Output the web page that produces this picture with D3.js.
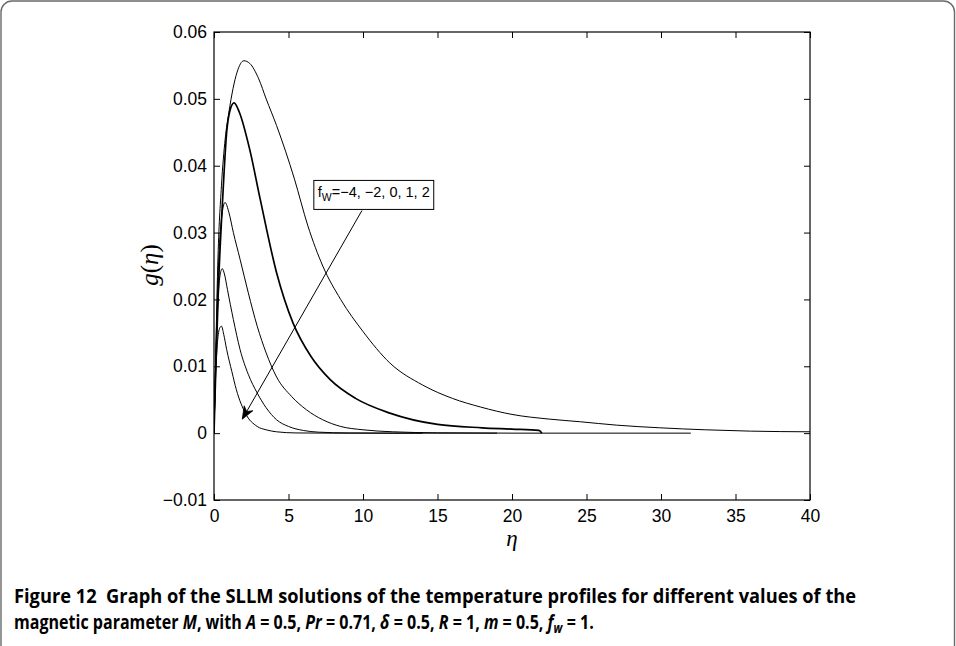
<!DOCTYPE html>
<html><head><meta charset="utf-8">
<script src="https://cdn.jsdelivr.net/npm/d3@7"></script>
<style>body{margin:0;background:#fff}svg{display:block}</style>
</head><body><svg id="c" width="956" height="646"></svg>
<script>
// ---- data ----
const fwValues = [-4, -2, 0, 1, 2];
const etaA = [0, 0.1, 0.25, 0.5, 0.75, 1.0, 1.55, 2.0, 2.4, 3.0, 3.5, 4.2, 5.4, 6.3, 7.3, 8.5, 10, 11.8, 14, 16, 17.9, 20, 22.5, 24.6, 27, 29.9, 33, 36, 40];
const gA   = [0, 0.010, 0.025, 0.037, 0.044, 0.048, 0.054, 0.0557, 0.0553, 0.053, 0.050, 0.046, 0.038, 0.031, 0.025, 0.020, 0.0152, 0.0105, 0.0072, 0.0052, 0.0039, 0.0028, 0.0021, 0.0017, 0.0012, 0.0008, 0.0005, 0.0003, 0.0002];
const etaB = [0, 0.1, 0.3, 0.58, 0.85, 1.1, 1.35, 1.7, 2.4, 3.1, 4.2, 5.3, 6.5, 7.8, 9.5, 11.8, 15, 18, 20, 21.8, 22];
const gB   = [0, 0.008, 0.022, 0.035, 0.045, 0.0485, 0.0494, 0.048, 0.0424, 0.035, 0.024, 0.0165, 0.0115, 0.008, 0.0052, 0.003, 0.0013, 0.0008, 0.0006, 0.0004, 0];
const etaC = [0, 0.1, 0.3, 0.5, 0.74, 1.0, 1.3, 1.75, 2.3, 2.9, 3.5, 4.2, 5.2, 6.2, 7.3, 8.5, 10, 12, 15, 20, 32];
const gC   = [0, 0.010, 0.025, 0.032, 0.0345, 0.033, 0.030, 0.026, 0.021, 0.016, 0.012, 0.0084, 0.0055, 0.0035, 0.002, 0.001, 0.0005, 0.0002, 0.00005, 0, 0];
const etaD = [0, 0.1, 0.25, 0.4, 0.55, 0.7, 0.9, 1.3, 1.75, 2.3, 2.9, 3.5, 4.2, 5, 6, 7, 9, 12, 19];
const gD   = [0, 0.009, 0.019, 0.0235, 0.0246, 0.0238, 0.0215, 0.017, 0.0125, 0.0088, 0.006, 0.0038, 0.002, 0.001, 0.0004, 0.00015, 0.00003, 0, 0];
const etaE = [0, 0.1, 0.25, 0.4, 0.5, 0.65, 0.85, 1.2, 1.5, 2.1, 2.9, 3.5, 4.2, 5.5, 8, 14];
const gE   = [0, 0.008, 0.014, 0.0158, 0.016, 0.0148, 0.0125, 0.0092, 0.0065, 0.003, 0.001, 0.0005, 0.0002, 0.00003, 0, 0];
const xTicks = [0, 5, 10, 15, 20, 25, 30, 35, 40];
const xTickLabels = ["0", "5", "10", "15", "20", "25", "30", "35", "40"];
const yTicks = [-0.01, 0, 0.01, 0.02, 0.03, 0.04, 0.05, 0.06];
const yTickLabels = ["\u22120.01", "0", "0.01", "0.02", "0.03", "0.04", "0.05", "0.06"];
const annotationText = "=\u22124, \u22122, 0, 1, 2";
const captionLine1 = "Figure 12  Graph of the SLLM solutions of the temperature profiles for different values of the";

// ---- layout ----
const svg = d3.select("#c");
const L = 214, R = 810, T = 32, B = 500;
const x = d3.scaleLinear().domain([0, 40]).range([L, R]);
const y = d3.scaleLinear().domain([-0.01, 0.06]).range([B, T]);

// outer frame
svg.append("rect").attr("x", 1).attr("y", 1).attr("width", 953.5).attr("height", 670)
  .attr("rx", 11).attr("fill", "none").attr("stroke", "#6a6a6a").attr("stroke-width", 1.4);

const tickFont = "'Liberation Sans', Arial, Helvetica, sans-serif";

// axes
const gx = svg.append("g").attr("transform", `translate(0,${B})`)
  .call(d3.axisBottom(x).tickValues(xTicks).tickFormat((d, i) => xTickLabels[i]).tickSize(-6).tickSizeOuter(0).tickPadding(10));
const gxt = svg.append("g").attr("transform", `translate(0,${T})`)
  .call(d3.axisTop(x).tickValues(xTicks).tickFormat("").tickSize(-6).tickSizeOuter(0));
const gy = svg.append("g").attr("transform", `translate(${L},0)`)
  .call(d3.axisLeft(y).tickValues(yTicks).tickFormat((d, i) => yTickLabels[i]).tickSize(-6).tickSizeOuter(0).tickPadding(7));
const gyr = svg.append("g").attr("transform", `translate(${R},0)`)
  .call(d3.axisRight(y).tickValues(yTicks).tickFormat("").tickSize(-6).tickSizeOuter(0));
[gx, gxt, gy, gyr].forEach(g => {
  g.select(".domain").remove();
  g.selectAll("line").attr("stroke", "#000").attr("stroke-width", 1);
  g.selectAll("text").attr("fill", "#000").style("font-family", tickFont).style("font-size", "17.5px");
});
svg.append("rect").attr("x", L).attr("y", T).attr("width", R - L).attr("height", B - T)
  .attr("fill", "none").attr("stroke", "#000").attr("stroke-width", 1.2);

// clip
svg.append("clipPath").attr("id", "clip").append("rect")
  .attr("x", L).attr("y", T).attr("width", R - L).attr("height", B - T);

const line = d3.line().x(d => x(d[0])).y(d => y(d[1])).curve(d3.curveMonotoneX);
const series = [
  {eta: etaA, g: gA, w: 1.0},
  {eta: etaB, g: gB, w: 1.7},
  {eta: etaC, g: gC, w: 1.0},
  {eta: etaD, g: gD, w: 1.0},
  {eta: etaE, g: gE, w: 1.0}
];
const plot = svg.append("g").attr("clip-path", "url(#clip)");
series.forEach(s => {
  plot.append("path").datum(s.eta.map((e, i) => [e, s.g[i]]))
    .attr("d", line).attr("fill", "none").attr("stroke", "#000").attr("stroke-width", s.w)
    .attr("stroke-linejoin", "round");
});

// annotation box
const ann = svg.append("g");
const boxX = x(6.7), boxY = y(0.0378);
const t = ann.append("text").attr("x", boxX + 4).attr("y", boxY + 17)
  .style("font-family", tickFont).style("font-size", "14.5px").attr("fill", "#000");
t.append("tspan").text("f");
t.append("tspan").attr("dy", 4).style("font-size", "10.5px").text("W");
t.append("tspan").attr("dy", -4).text(annotationText);
const bb = t.node().getBBox();
ann.insert("rect", "text").attr("x", boxX).attr("y", boxY)
  .attr("width", bb.width + 8).attr("height", 29)
  .attr("fill", "#fff").attr("stroke", "#000").attr("stroke-width", 1);

// arrow
const x0 = x(9.93), y0 = y(0.0333), x1 = x(1.9), y1 = y(0.0021);
const ang = Math.atan2(y1 - y0, x1 - x0);
svg.append("line").attr("x1", x0).attr("y1", y0).attr("x2", x1).attr("y2", y1)
  .attr("stroke", "#000").attr("stroke-width", 1);
const hl = 12.5, hw = 5;
const bx = x1 - hl * Math.cos(ang), by = y1 - hl * Math.sin(ang);
const nx = x1 - hl * 0.7 * Math.cos(ang), ny = y1 - hl * 0.7 * Math.sin(ang);
const px = -Math.sin(ang), py = Math.cos(ang);
svg.append("path").attr("d",
  `M${x1},${y1}L${bx + hw * px},${by + hw * py}L${nx},${ny}L${bx - hw * px},${by - hw * py}Z`)
  .attr("fill", "#000").attr("stroke", "#000").attr("stroke-width", 0.8);

// axis labels
const serif = "'Liberation Serif', 'DejaVu Serif', serif";
svg.append("text").attr("x", 512).attr("y", 546).attr("text-anchor", "middle")
  .style("font-family", serif).style("font-style", "italic").style("font-size", "23px").text("\u03b7");
const yl = svg.append("text").attr("transform", "translate(158,265) rotate(-90)").attr("text-anchor", "middle")
  .style("font-family", serif).style("font-size", "25px");
yl.append("tspan").style("font-style", "italic").text("g");
yl.append("tspan").text("(");
yl.append("tspan").style("font-style", "italic").text("\u03b7");
yl.append("tspan").text(")");

// caption (scaled horizontally to the reference line widths)
const capFont = "'Open Sans', 'Noto Sans', sans-serif";
function captionLine(px0, py0, targetW) {
  const g = svg.append("g");
  const txt = g.append("text").attr("x", 0).attr("y", 0)
    .style("font-family", capFont).style("font-weight", "bold").style("font-size", "20px")
    .style("white-space", "pre").attr("fill", "#000");
  return {g, txt, fit() {
    const w = txt.node().getComputedTextLength();
    g.attr("transform", `translate(${px0},${py0}) scale(${targetW / w},1)`);
  }};
}
const cap1 = captionLine(14, 603, 843);
cap1.txt.text(captionLine1);
cap1.fit();
const cap2 = captionLine(14, 629, 580);
const parts = [
  ["magnetic parameter ", 0], ["M", 1], [", with ", 0], ["A", 1], [" = 0.5, ", 0], ["Pr", 1],
  [" = 0.71, ", 0], ["\u03b4", 1], [" = 0.5, ", 0], ["R", 1], [" = 1, ", 0], ["m", 1], [" = 0.5, ", 0],
  ["f", 1], ["w", 2], [" = 1.", 3]
];
parts.forEach(p => {
  const ts = cap2.txt.append("tspan").text(p[0]);
  if (p[1] === 1) ts.style("font-style", "italic");
  if (p[1] === 2) ts.style("font-style", "italic").style("font-size", "14px").attr("dy", 4);
  if (p[1] === 3) ts.attr("dy", -4);
});
cap2.fit();
</script>
</body></html>
